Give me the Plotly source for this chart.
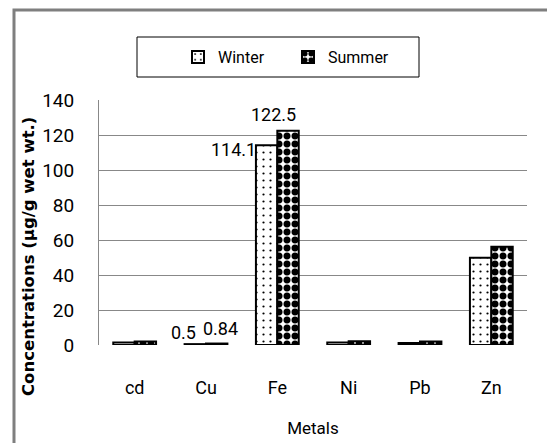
import plotly.graph_objects as go

# data
metals = ["cd", "Cu", "Fe", "Ni", "Pb", "Zn"]
winter = [1.4, 0.5, 114.1, 1.5, 1.2, 49.9]
summer = [2.0, 0.84, 122.5, 2.1, 2.0, 56.2]
y_ticks = [0, 20, 40, 60, 80, 100, 120, 140]

narrow = "Roboto, Liberation Sans Narrow, sans-serif"


def nfont(size):
    return dict(family=narrow, size=size, color="black")


fig = go.Figure()

fig.add_trace(go.Bar(
    x=metals, y=winter, name="Winter",
    marker=dict(color="white", line=dict(color="black", width=2),
                pattern=dict(shape=".", fgcolor="black", bgcolor="white",
                             fgopacity=1, size=7, solidity=0.08)),
))
fig.add_trace(go.Bar(
    x=metals, y=summer, name="Summer",
    marker=dict(color="white", line=dict(color="black", width=2),
                pattern=dict(shape=".", fgcolor="black", bgcolor="white",
                             fgopacity=1, size=8, solidity=0.6)),
))

# data labels only on Cu and Fe, placed like the original
labels = [
    ("Cu", winter[1], "0.5", -23, 12),
    ("Cu", summer[1], "0.84", 14, 15),
    ("Fe", winter[2], "114.1", -44, -4),
    ("Fe", summer[2], "122.5", -4, 16),
]
for cat, val, txt, dx, dy in labels:
    fig.add_annotation(x=cat, y=val, text=txt, showarrow=False,
                       xref="x", yref="y", xshift=dx, yshift=dy,
                       font=nfont(18))

# y axis title, centred on the whole chart like the original
fig.add_annotation(x=(28 - 99) / 428, y=1 - (257 - 100) / 245,
                   xref="paper", yref="paper", showarrow=False,
                   text="Concentrations (µg/g wet wt.)", textangle=-90,
                   xanchor="center", yanchor="middle",
                   font=dict(family="DejaVu Sans", size=16.5, weight="bold",
                             color="black"))

# outer chart frame
fig.add_shape(type="rect", xref="paper", yref="paper",
              x0=-0.1986, x1=1.08, y0=-0.47, y1=1.367,
              line=dict(color="#7f7f7f", width=3), layer="below")
# legend box
fig.add_shape(type="rect", xref="paper", yref="paper",
              x0=(137 - 99) / 428, x1=(419 - 99) / 428,
              y0=1 + (100 - 77) / 245, y1=1 + (100 - 37) / 245,
              line=dict(color="black", width=1))

fig.update_layout(
    width=547, height=443,
    margin=dict(l=99, r=20, t=100, b=98, autoexpand=False),
    paper_bgcolor="white", plot_bgcolor="white",
    barmode="group", bargap=0.4, bargroupgap=0,
    font=nfont(16),
    showlegend=True,
    legend=dict(orientation="h", x=(288 - 99) / 428, xanchor="center",
                y=1 + (100 - 57) / 245, yanchor="middle",
                font=nfont(16), entrywidth=65, itemwidth=30,
                bgcolor="rgba(0,0,0,0)", borderwidth=0),
    xaxis=dict(showline=False, showgrid=False, ticks="", automargin=False,
               ticklabelstandoff=30,
               tickfont=nfont(18),
               title=dict(text="Metals", standoff=25, font=nfont(17))),
    yaxis=dict(range=[0, 140], tickvals=y_ticks, showgrid=True,
               gridcolor="#888888", gridwidth=1, automargin=False,
               showline=True, linecolor="#888888", linewidth=1,
               zeroline=True, zerolinecolor="white", zerolinewidth=2,
               ticks="", ticklabelstandoff=20,
               tickfont=nfont(19)),
)

fig.write_html("out.html", config={"displayModeBar": False},
               post_script="document.body.style.margin = '0';")
